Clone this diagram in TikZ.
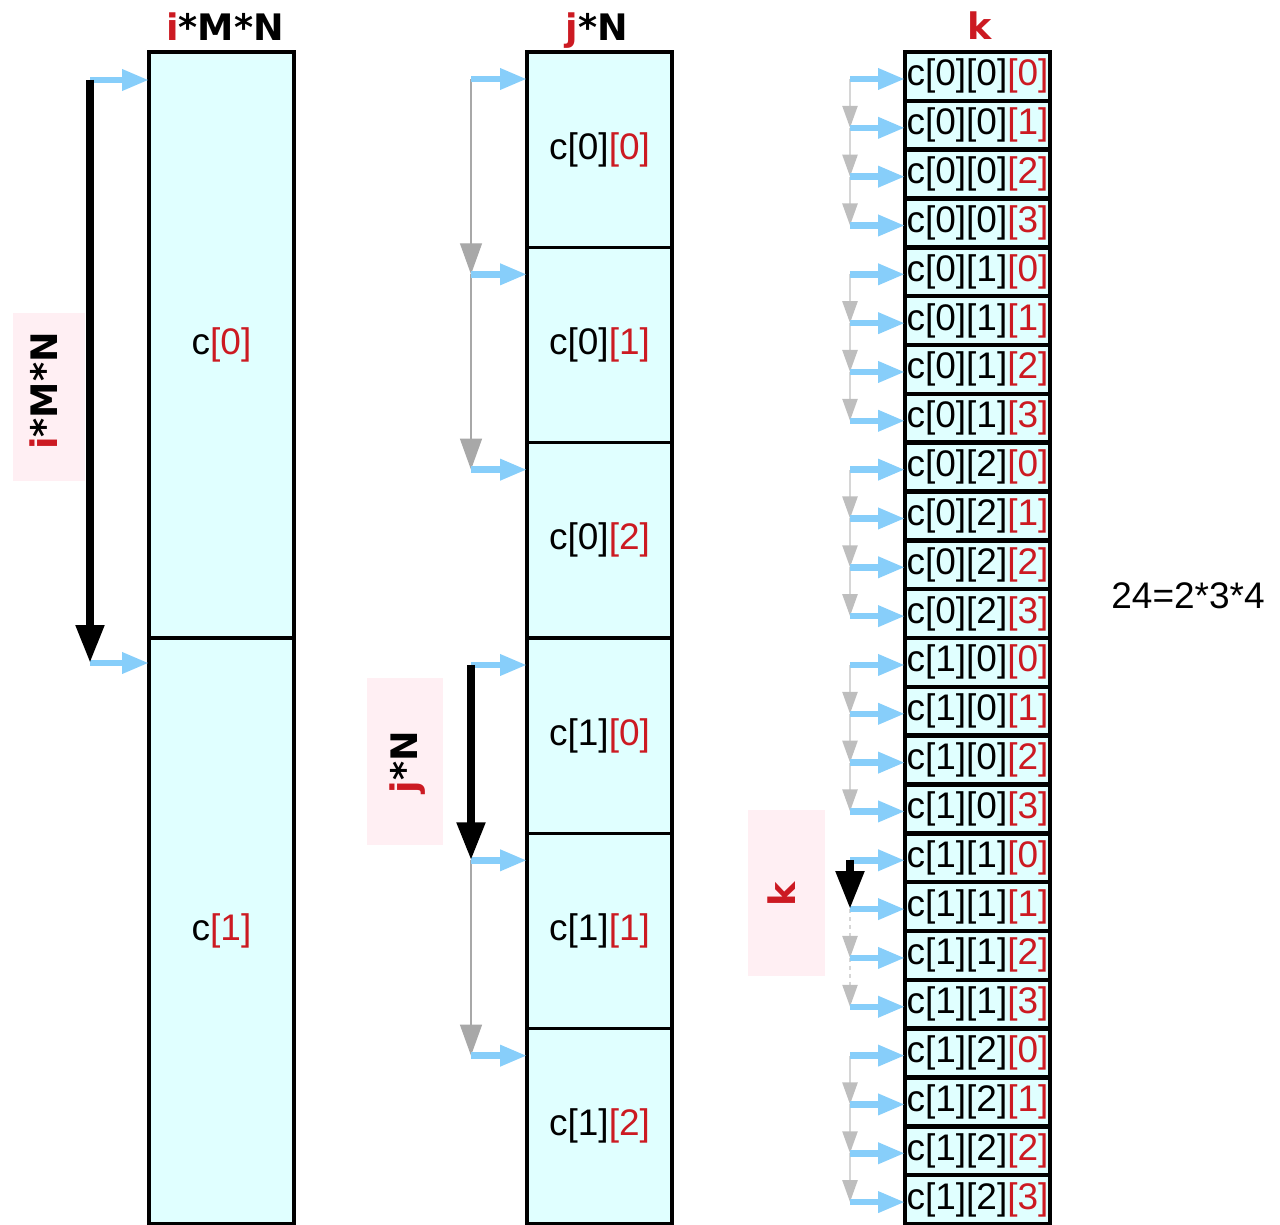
\documentclass[tikz,border=0pt]{standalone}
\usepackage{fontspec}
\setmainfont{Liberation Sans}
\newfontfamily\titlefont{DejaVu Sans}
\usetikzlibrary{arrows.meta}
\definecolor{cellfill}{HTML}{E0FFFF}
\definecolor{idxred}{HTML}{CC1A22}
\definecolor{pinkfill}{HTML}{FFEFF3}
\definecolor{arrowblue}{HTML}{87CEFA}
\definecolor{stepgray}{HTML}{A8A8A8}
\definecolor{kline}{HTML}{D6D6D6}
\definecolor{khead}{HTML}{BEBEBE}
\tikzset{
  cellbox/.style={draw=black, line width=3.5pt, fill=cellfill, minimum width=145pt,
    inner sep=0pt, outer sep=0pt, anchor=north west,
    font=\fontsize{37}{40}\selectfont},
  kcell/.style={cellbox, line width=4.5pt},
  bluearrow/.style={draw=arrowblue, line width=6.5pt,
    -{Triangle[length=27pt,width=20pt,color=arrowblue]}},
  grayarrow/.style={draw=stepgray, line width=1.2pt,
    -{Triangle[length=31pt,width=22pt,color=stepgray]}},
  karrow/.style={draw=kline, line width=2.5pt,
    -{Triangle[length=22pt,width=15pt,color=khead]}},
  blackarrow/.style={draw=black, line width=8pt,
    -{Triangle[length=38pt,width=27pt,color=black]}},
  titletext/.style={font=\titlefont\bfseries\fontsize{36.5}{40}\selectfont, anchor=base, inner sep=0pt},
  pinkbox/.style={fill=pinkfill, draw=none},
  plain/.style={font=\fontsize{37}{40}\selectfont, anchor=base, inner sep=0pt}
}
\begin{document}
\begin{tikzpicture}[x=1pt,y=-1pt]
\useasboundingbox (0,0) rectangle (1280,1225);

% pink label boxes
\node[pinkbox, minimum width=72pt, minimum height=168pt] (boxi) at (49,397) {};
\node[pinkbox, minimum width=76pt, minimum height=167pt] (boxj) at (405,761.5) {};
\node[pinkbox, minimum width=77pt, minimum height=166pt] (boxk) at (786.5,893) {};
\node[titletext, rotate=90] (labi) at (57,391) {{\color{idxred}i}*M*N};
\node[titletext, rotate=90] (labj) at (417,762) {{\color{idxred}j}*N};
\node[titletext, rotate=90] (labk) at (795,894) {{\color{idxred}k}};

% titles
\node[titletext] (ti) at (225,41) {{\color{idxred}i}*M*N};
\node[titletext] (tj) at (597,41) {{\color{idxred}j}*N};
\node[titletext] (tk) at (980,40) {{\color{idxred}k}};

% column 1
\node[cellbox, minimum height=586pt] (A0) at (149,52) {c{\color{idxred}[0]}};
\node[cellbox, minimum height=586pt] (A1) at (149,638) {c{\color{idxred}[1]}};
\coordinate (pa0) at (90,80);
\coordinate (pa1) at (90,663);

% column 2
\foreach \i in {0,...,5}{
  \pgfmathsetmacro\tp{52+195.33*\i}
  \pgfmathtruncatemacro\ia{floor(\i/3)}
  \pgfmathtruncatemacro\ib{mod(\i,3)}
  \node[cellbox, minimum height=195.33pt] (B\i) at (527,\tp) {c[\ia]{\color{idxred}[\ib]}};
  \coordinate (pb\i) at (471,\tp+27);
}

% column 3
\foreach \k in {0,...,23}{
  \pgfmathsetmacro\tp{52+48.83*\k}
  \pgfmathtruncatemacro\ka{floor(\k/12)}
  \pgfmathtruncatemacro\kb{mod(floor(\k/4),3)}
  \pgfmathtruncatemacro\kc{mod(\k,4)}
  \node[kcell, minimum height=48.83pt] (C\k) at (905,\tp) {c[\ka][\kb]{\color{idxred}[\kc]}};
  \coordinate (pc\k) at (850,\tp+27);
}

% gray step arrows, column 2
\draw[grayarrow] (pb0) -- (pb1);
\draw[grayarrow] (pb1) -- (pb2);
\draw[grayarrow] (pb4) -- (pb5);

% gray step arrows, column 3
\foreach \g in {0,1,2,3,5}{
  \foreach \s in {0,1,2}{
    \pgfmathtruncatemacro\ka{4*\g+\s}
    \pgfmathtruncatemacro\kb{4*\g+\s+1}
    \draw[karrow] (pc\ka) -- (pc\kb);
  }
}
\draw[karrow, dash pattern=on 4pt off 4pt] (pc17) -- (pc18);
\draw[karrow, dash pattern=on 4pt off 4pt] (pc18) -- (pc19);

% blue arrows
\draw[bluearrow] (pa0) -- (pa0 -| A0.west);
\draw[bluearrow] (pa1) -- (pa1 -| A1.west);
\foreach \i in {0,...,5}{ \draw[bluearrow] (pb\i) -- (pb\i -| B\i.west); }
\foreach \k in {0,...,23}{ \draw[bluearrow] (pc\k) -- (pc\k -| C\k.west); }

% black arrows
\draw[blackarrow] (pa0) -- (pa1);
\draw[blackarrow] (pb3) -- (pb4);
\draw[blackarrow] (pc16) -- (pc17);

% total
\node[plain] (tot) at (1188,608) {24=2*3*4};
\end{tikzpicture}
\end{document}
